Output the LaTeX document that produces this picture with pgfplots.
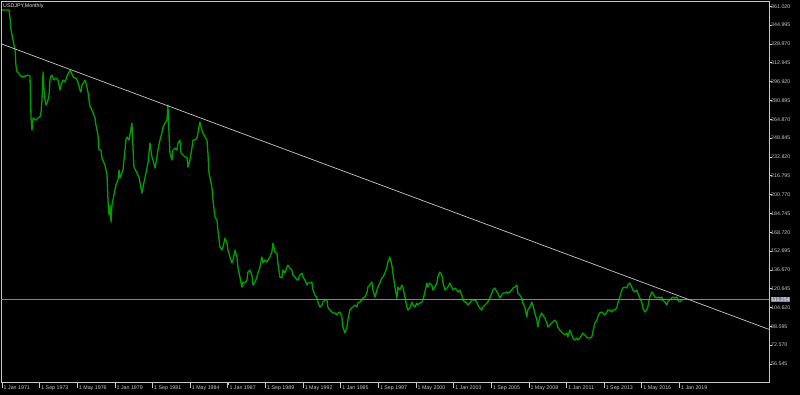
\documentclass[border=0pt]{standalone}
\usepackage{pgfplots}
\pgfplotsset{compat=1.18}
\usepackage{fontspec}
\setmainfont{Liberation Sans}
\definecolor{fg}{RGB}{200,200,200}
\definecolor{barc}{RGB}{0,160,0}
\definecolor{bidc}{RGB}{119,136,153}
\pgfplotstableread{
m p
0 357.8
6.0 357.8
6.8 350.9
7.7 340.7
9.4 332.2
11.1 323.7
11.9 310.1
12.8 305.0
13.6 305.0
15.3 302.4
17.0 300.7
19.6 301.6
22.1 302.4
23.8 301.6
24.7 265.9
25.5 255.6
26.4 265.9
28.9 264.1
30.6 265.9
32.3 266.7
33.2 271.0
34.0 281.2
34.9 305.0
35.7 289.7
36.6 281.2
37.4 276.9
38.3 278.6
39.1 281.2
40.0 285.4
40.8 298.2
41.7 301.6
42.5 302.4
44.2 298.2
45.9 299.9
47.6 298.2
49.3 289.7
50.2 293.9
51.9 298.2
53.6 296.5
55.3 301.6
57.0 305.0
57.8 306.7
59.5 303.3
61.2 299.9
62.9 299.9
64.6 296.5
66.3 289.7
67.2 288.0
68.0 293.9
69.7 296.5
70.6 298.2
71.4 295.6
73.1 288.0
74.0 281.2
74.8 276.1
76.5 272.7
78.2 268.4
79.1 265.9
79.9 259.9
80.8 255.6
81.6 251.4
82.5 238.6
84.2 238.6
85.0 231.8
87.6 225.8
89.3 217.3
90.1 196.1
91.0 183.3
91.8 191.8
92.7 177.3
93.5 191.8
95.2 200.3
96.9 208.8
98.6 213.1
99.5 221.6
100.3 214.8
102.9 221.6
105.4 247.1
106.3 249.7
108.0 247.1
110.5 261.6
111.4 240.3
112.2 224.1
114.8 219.0
116.5 215.6
119.0 202.0
119.9 207.1
122.4 219.0
124.1 227.5
125.8 244.6
127.5 232.7
128.4 230.1
130.1 223.3
131.8 232.7
132.6 238.6
134.3 247.1
136.0 253.1
136.9 258.2
138.6 261.6
140.3 264.1
141.1 277.0
142.0 253.1
142.8 236.1
144.5 230.1
145.4 238.6
147.1 240.3
148.8 238.6
149.6 244.6
151.3 247.1
152.2 236.1
153.9 234.4
155.6 232.7
157.3 232.7
158.1 224.1
159.8 230.1
161.5 240.3
162.4 247.1
164.1 247.1
165.8 248.8
166.6 253.1
168.3 262.4
170.0 255.6
170.9 253.1
172.6 249.7
174.3 247.1
175.1 236.1
176.0 219.0
178.5 207.1
179.4 196.1
181.1 181.6
182.8 179.0
183.6 170.5
185.3 156.1
187.0 153.5
187.9 156.1
189.6 163.7
191.3 159.5
192.1 153.5
193.8 147.6
195.5 142.5
196.4 145.0
198.1 153.5
199.8 147.6
200.6 139.0
202.3 130.5
204.0 122.0
204.9 126.3
206.6 125.4
208.3 128.0
209.1 134.8
210.8 136.5
212.5 132.2
213.4 123.7
215.1 126.3
216.8 130.5
217.6 133.9
219.3 139.0
221.0 147.6
221.9 142.5
223.6 145.0
225.3 143.3
226.1 145.0
227.8 147.6
229.5 151.8
230.4 159.5
232.1 151.8
233.8 151.0
234.6 142.5
236.3 130.5
238.0 129.7
238.9 136.5
240.6 133.9
242.3 139.0
243.1 140.7
244.8 138.2
246.5 136.5
247.4 132.2
249.1 130.5
250.8 128.0
251.6 128.0
253.3 132.2
255.0 133.9
255.9 130.5
257.6 128.0
259.3 123.7
260.1 125.4
261.8 125.4
263.5 126.3
264.4 119.5
266.1 115.2
267.8 112.7
268.6 109.3
270.3 105.0
272.0 106.7
272.9 109.3
274.6 111.0
276.3 111.0
277.1 105.0
278.8 102.5
280.5 100.8
281.4 99.9
283.1 99.9
284.8 98.2
285.6 99.9
287.3 100.8
289.0 96.5
289.9 88.0
291.6 82.9
293.3 88.0
294.1 93.9
295.8 102.5
297.5 104.2
298.4 105.0
300.1 106.7
301.8 105.0
302.6 108.4
304.3 109.3
306.0 111.0
306.9 112.7
308.6 113.5
310.3 116.9
311.1 122.0
312.8 123.7
314.5 126.3
315.4 119.5
317.1 113.5
318.8 119.5
319.6 122.0
321.3 125.4
323.0 129.7
323.9 130.5
325.6 133.9
327.3 139.0
328.1 143.3
329.8 147.6
331.5 140.7
332.4 133.9
334.1 122.0
335.8 112.7
336.6 122.0
338.3 119.5
340.0 123.7
340.9 122.0
342.6 113.5
344.3 105.0
345.1 102.5
346.8 104.2
348.5 109.3
349.4 106.7
351.1 105.0
352.8 108.4
353.6 106.7
355.3 108.4
357.0 109.3
357.9 111.0
359.6 117.8
361.3 125.4
362.1 122.0
363.8 125.4
365.5 123.7
366.4 119.5
368.1 122.0
369.8 125.4
370.6 130.5
372.3 134.8
374.0 132.2
374.9 126.3
376.6 119.5
378.3 121.2
379.1 122.0
380.8 125.4
382.5 122.0
383.4 119.5
385.1 121.2
386.8 119.5
387.6 117.8
389.3 119.5
391.0 115.2
391.9 111.0
393.6 109.3
395.3 108.4
396.1 106.7
397.8 108.4
399.5 111.0
400.4 111.0
402.1 111.0
403.8 109.3
404.6 106.7
406.3 104.2
408.0 102.5
408.9 105.0
410.6 106.7
412.3 108.4
413.1 109.3
414.8 112.7
416.5 116.9
417.4 119.5
419.1 121.2
420.8 117.8
421.6 116.9
423.3 112.7
425.0 115.2
425.9 116.9
427.6 116.9
429.3 117.8
430.1 116.9
431.8 117.8
433.5 119.5
434.4 121.2
436.1 122.0
437.8 123.7
438.6 116.9
440.3 115.2
442.0 112.7
442.9 108.4
444.6 105.0
446.3 96.5
447.1 102.5
448.8 105.0
450.5 109.3
451.4 106.7
453.1 99.9
454.8 93.9
455.6 88.0
457.3 96.5
459.0 99.9
459.9 98.2
461.6 95.6
463.3 91.4
464.1 88.0
465.8 89.7
467.5 91.4
468.4 92.2
470.1 93.9
471.8 91.4
472.6 88.0
474.3 85.4
476.0 83.7
476.9 82.9
478.6 81.2
480.3 82.9
481.1 79.5
482.8 85.4
484.5 81.2
485.4 78.6
487.1 76.9
488.8 78.6
489.6 76.9
491.3 78.6
493.0 81.2
493.9 82.9
495.6 81.2
497.3 79.5
498.1 78.6
499.8 78.6
501.5 79.5
502.4 83.7
504.1 91.4
505.8 93.9
506.6 96.5
508.3 99.9
510.0 100.8
510.9 99.9
512.6 98.2
514.3 100.8
515.1 102.5
516.8 102.5
518.5 100.8
519.4 102.5
521.1 102.5
522.8 104.2
523.6 108.4
525.3 113.5
527.0 119.5
527.9 121.2
529.6 122.0
531.3 121.2
532.1 123.7
533.8 125.4
535.5 122.0
536.4 119.5
538.1 117.8
539.8 119.5
540.6 116.9
542.3 112.7
544.0 109.3
544.9 104.2
546.6 100.8
548.3 102.5
549.1 105.0
550.8 113.5
552.5 117.8
553.4 116.9
555.1 113.5
556.8 112.7
557.6 113.5
559.3 112.7
561.0 113.5
561.9 111.0
563.6 109.3
565.3 106.7
566.1 109.3
567.8 111.0
569.5 112.7
570.4 113.5
572.1 112.7
573.8 113.5
574.6 111.0
576.3 109.3
578.0 111.0
578.9 111.3
}\usdjpy
\begin{document}
\begin{tikzpicture}[x=1pt,y=1pt]
\path[use as bounding box, fill=black] (0,0) rectangle (800,395);
\begin{axis}[
  at={(1pt,13pt)}, anchor=south west,
  width=768pt, height=381pt, scale only axis,
  xmin=-0.85, xmax=652.2, ymin=41.23, ymax=365.48,
  axis line style={draw=fg, line width=0.7pt},
  tick style={draw=fg, line width=0.6pt},
  tick align=outside, major tick length=3pt,
  xtick pos=bottom, ytick pos=right, yticklabel pos=right,
  xtick={0,32,...,576},
  xticklabels={1 Jan 1971,1 Sep 1973,1 May 1976,1 Jan 1979,1 Sep 1981,1 May 1984,1 Jan 1987,1 Sep 1989,1 May 1992,1 Jan 1995,1 Sep 1997,1 May 2000,1 Jan 2003,1 Sep 2005,1 May 2008,1 Jan 2011,1 Sep 2013,1 May 2016,1 Jan 2019},
  ytick={56.545,72.570,88.595,104.620,120.645,136.670,152.695,168.720,184.745,200.770,216.795,232.820,248.845,264.870,280.895,296.920,312.945,328.970,344.995,361.020},
  yticklabels={56.545,72.570,88.595,104.620,120.645,136.670,152.695,168.720,184.745,200.770,216.795,232.820,248.845,264.870,280.895,296.920,312.945,328.970,344.995,361.020},
  tick label style={font=\fontsize{5.3}{6}\selectfont, text=fg, inner sep=0pt},
  xticklabel style={anchor=west, xshift=1.5pt, yshift=-3pt},
  yticklabel style={anchor=west, xshift=-1pt},
]
\addplot[barc, line width=1.3pt, line join=round] table[x=m,y=p] {\usdjpy};
\addplot[bidc, line width=0.8pt] coordinates {(-0.85,111.254) (652.2,111.254)};
\addplot[fg, line width=0.7pt] coordinates {(-0.85,329.1) (652.2,86.0)};
\coordinate (bid) at (axis cs:652.2,111.254);
\pgfplotsinvokeforeach{0,32,...,576}{\coordinate (tk#1) at (axis cs:#1,41.23);}
\end{axis}
\foreach \m in {0,32,...,576} {\draw[fg, line width=0.6pt] (tk\m) -- ++(0,-6);}
\node[anchor=west, fill=bidc, text=white, inner sep=0.6pt, font=\fontsize{5.3}{6}\selectfont] at ([xshift=1.6pt]bid) {111.254};
\node[anchor=west, inner sep=0pt, text=white!90!black, font=\fontsize{5.3}{6}\selectfont] at (3,389.3) {USDJPY,Monthly};
\end{tikzpicture}
\end{document}
